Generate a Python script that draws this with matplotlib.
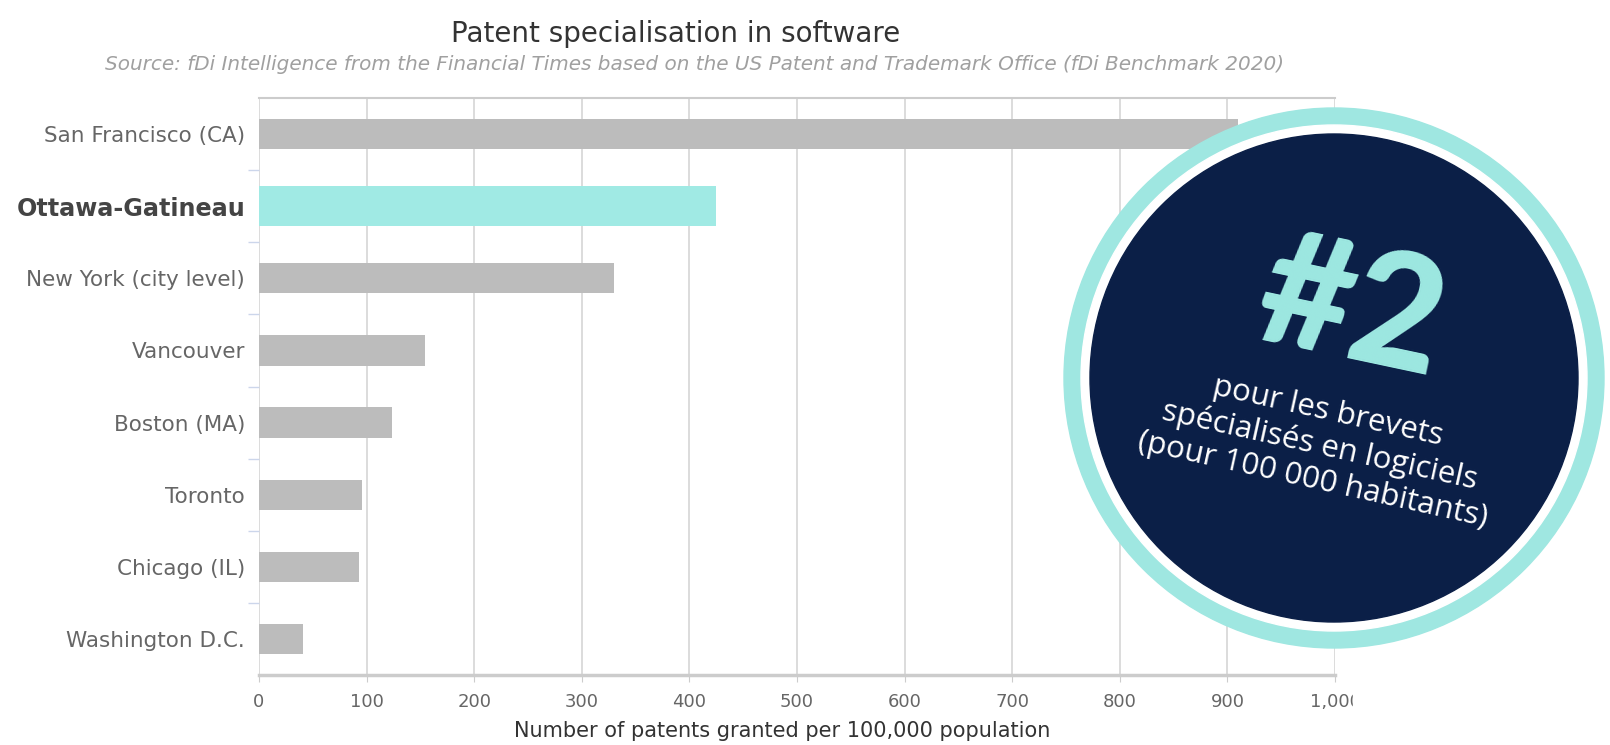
import matplotlib
matplotlib.use("Agg")
import matplotlib.pyplot as plt
from matplotlib.patches import Circle, Rectangle
from matplotlib.ticker import FixedLocator

cities = [
    "San Francisco (CA)",
    "Ottawa-Gatineau",
    "New York (city level)",
    "Vancouver",
    "Boston (MA)",
    "Toronto",
    "Chicago (IL)",
    "Washington D.C.",
]
patents = [910, 425, 330, 154, 124, 96, 93, 41]
highlight = "Ottawa-Gatineau"

x_ticks = [0, 100, 200, 300, 400, 500, 600, 700, 800, 900, 1000]
x_tick_labels = ["0", "100", "200", "300", "400", "500", "600", "700", "800", "900", "1,000"]

title = "Patent specialisation in software"
subtitle = ("Source: fDi Intelligence from the Financial Times based on the US Patent "
            "and Trademark Office (fDi Benchmark 2020)")
x_label = "Number of patents granted per 100,000 population"
badge_big = "#2"
badge_text = "pour les brevets\nspécialisés en logiciels\n(pour 100 000 habitants)"

GREY_BAR = "#bcbcbc"
TEAL = "#a0eae4"
NAVY = "#0b1f47"
W, H = 1610, 745

fig = plt.figure(figsize=(W / 100, H / 100), dpi=100)
fig.patch.set_facecolor("white")

ax = fig.add_axes([259 / W, 1 - 675 / H, (1335 - 259) / W, (675 - 98) / H])

positions = list(range(len(cities)))
colors = [TEAL if c == highlight else GREY_BAR for c in cities]
heights = [0.55 if c == highlight else 0.42 for c in cities]
ax.barh(positions, patents, height=heights, color=colors, zorder=3)

ax.set_ylim(len(cities) - 0.5, -0.5)
ax.set_xlim(0, 1000)
ax.set_yticks(positions)
ax.set_yticklabels(cities, fontsize=15.5, color="#666666")
for lbl in ax.get_yticklabels():
    if lbl.get_text() == highlight:
        lbl.set_fontweight("bold")
        lbl.set_fontsize(17.2)
        lbl.set_color("#444444")
ax.tick_params(axis="y", length=0, pad=10)
ax.yaxis.set_minor_locator(FixedLocator([p + 0.5 for p in positions[:-1]]))
ax.tick_params(axis="y", which="minor", length=8, color="#ccd6eb", width=1)

ax.set_xticks(x_ticks)
ax.set_xticklabels(x_tick_labels, fontsize=13, color="#666666")
ax.tick_params(axis="x", length=5, color="#cccccc", pad=8)

ax.grid(axis="x", color="#d6d6d6", linewidth=1.2, zorder=0)
ax.set_axisbelow(True)
for side in ["left", "right"]:
    ax.spines[side].set_visible(False)
ax.spines["top"].set_color("#cccccc")
ax.spines["top"].set_linewidth(1.5)
ax.spines["bottom"].set_color("#cccccc")
ax.spines["bottom"].set_linewidth(2.5)

ax.set_xlabel(x_label, fontsize=15, color="#333333")
ax.xaxis.set_label_coords((782 - 259) / (1335 - 259), -0.08)

fig.text(676 / W, 1 - 34 / H, title, ha="center", va="center", fontsize=20, color="#333333")
fig.text(694 / W, 1 - 64 / H, subtitle, ha="center", va="center", fontsize=14.4,
         style="italic", color="#a0a0a0")

# overlay in pixel coordinates for the badge
over = fig.add_axes([0, 0, 1, 1], zorder=10)
over.set_xlim(0, W)
over.set_ylim(H, 0)
over.axis("off")
over.patch.set_alpha(0)

# the original chart was cropped on the right
over.add_patch(Rectangle((1353, 680), W - 1353, H - 680, color="white", zorder=1))

cx, cy = 1334, 378
over.add_patch(Circle((cx, cy), 270, color="#9fe7e1", zorder=2))
over.add_patch(Circle((cx, cy), 253, color="white", zorder=3))
over.add_patch(Circle((cx, cy), 244, color=NAVY, zorder=4))

over.text(1352, 312, badge_big, ha="center", va="center", rotation=-12,
          fontsize=115, fontweight="black", family=["Lato", "DejaVu Sans"],
          color="#9ee9e2", zorder=5)
over.text(1320, 446, badge_text, ha="center", va="center", rotation=-12.5,
          multialignment="center", linespacing=1.2, fontsize=22.5,
          family=["Open Sans", "DejaVu Sans"],
          color="white", zorder=5)

fig.savefig("out.png", dpi=100, facecolor="white")
